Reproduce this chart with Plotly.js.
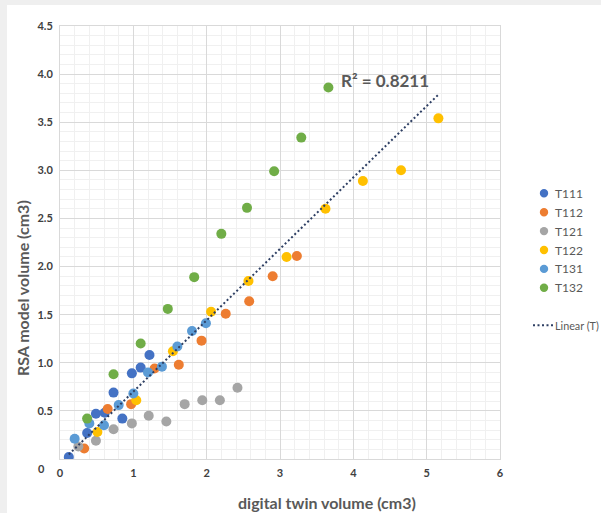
<!DOCTYPE html>
<html>
<head>
<meta charset="utf-8">
<script src="https://cdn.plot.ly/plotly-3.0.1.min.js"></script>
<style>
  html, body { margin: 0; padding: 0; background: #efefef; width: 601px; height: 513px; overflow: hidden; }
  #chart { position: absolute; left: 7px; top: 5px; width: 660px; height: 508px; background: #ffffff; }
</style>
</head>
<body>
<div id="chart"></div>
<script>
// ---- data ----
const seriesNames = ["T111", "T112", "T121", "T122", "T131", "T132"];
const seriesColors = ["#4472C4", "#ED7D31", "#A5A5A5", "#FFC000", "#5B9BD5", "#70AD47"];

const t111X = [0.12, 0.37, 0.49, 0.61, 0.73, 0.85, 0.98, 1.10, 1.22];
const t111Y = [0.02, 0.27, 0.47, 0.48, 0.69, 0.42, 0.89, 0.95, 1.08];

const t112X = [0.33, 0.65, 0.97, 1.29, 1.62, 1.93, 2.26, 2.58, 2.90, 3.23];
const t112Y = [0.11, 0.52, 0.57, 0.94, 0.98, 1.23, 1.51, 1.64, 1.90, 2.11];

const t121X = [0.25, 0.49, 0.73, 0.98, 1.21, 1.45, 1.70, 1.94, 2.18, 2.42];
const t121Y = [0.13, 0.19, 0.31, 0.37, 0.45, 0.39, 0.57, 0.61, 0.61, 0.74];

const t122X = [0.51, 1.04, 1.54, 2.06, 2.57, 3.09, 3.62, 4.13, 4.65, 5.16];
const t122Y = [0.28, 0.61, 1.12, 1.53, 1.85, 2.10, 2.60, 2.89, 3.00, 3.54];

const t131X = [0.20, 0.40, 0.60, 0.80, 1.00, 1.20, 1.39, 1.60, 1.80, 1.99];
const t131Y = [0.21, 0.37, 0.35, 0.56, 0.68, 0.90, 0.96, 1.17, 1.33, 1.41];

const t132X = [0.37, 0.73, 1.10, 1.47, 1.83, 2.20, 2.55, 2.92, 3.29, 3.66];
const t132Y = [0.42, 0.88, 1.20, 1.56, 1.89, 2.34, 2.61, 2.99, 3.34, 3.86];

// linear trendline over all points (Excel "Linear (T)")
const trendName = "Linear (T)";
const trendX = [0.12, 5.16];
const trendY = [0.047, 3.787];
const r2Text = "R\u00B2 = 0.8211";

const xTickVals = [0, 1, 2, 3, 4, 5, 6];
const xTickText = ["0", "1", "2", "3", "4", "5", "6"];
const yTickVals = [0, 0.5, 1.0, 1.5, 2.0, 2.5, 3.0, 3.5, 4.0, 4.5];
const yTickText = ["", "0.5", "1.0", "1.5", "2.0", "2.5", "3.0", "3.5", "4.0", "4.5"];
const yZeroLabel = "0";

const xTitle = "digital twin volume (cm3)";
const yTitle = "RSA model volume (cm3)";

// ---- traces ----
const xs = [t111X, t112X, t121X, t122X, t131X, t132X];
const ys = [t111Y, t112Y, t121Y, t122Y, t131Y, t132Y];

const FONT = "Lato, 'Open Sans', 'Liberation Sans', sans-serif";
const TREND_COLOR = "#2E3F63";

const traces = seriesNames.map((n, i) => ({
  type: "scatter",
  mode: "markers",
  name: n,
  x: xs[i],
  y: ys[i],
  marker: { color: seriesColors[i], size: 10, line: { width: 0 } },
  hoverinfo: "x+y+name"
}));

traces.push({
  type: "scatter",
  mode: "lines",
  name: trendName,
  x: trendX,
  y: trendY,
  line: { color: TREND_COLOR, width: 2, dash: "2px,2.5px" }
});

// ---- legend drawn as shapes + annotations (Excel-style spacing) ----
// paper coords: plot area spans div x 53..493 (440px), div y 21..454 (433px)
const PX0 = 53, PW = 440, PB = 454, PH = 433, OFFX = 7, OFFY = 5;
const pxToPaperX = px => (px - OFFX - PX0) / PW;
const pyToPaperY = py => (PB - (py - OFFY)) / PH;

const legendShapes = [];
const legendAnns = [];
seriesNames.forEach((n, i) => {
  const py = 193.3 + i * 18.9;
  legendShapes.push({
    type: "circle", xref: "paper", yref: "paper",
    xsizemode: "pixel", ysizemode: "pixel",
    xanchor: pxToPaperX(544), yanchor: pyToPaperY(py),
    x0: -4.2, x1: 4.2, y0: -4.2, y1: 4.2,
    fillcolor: seriesColors[i], line: { width: 0 }
  });
  legendAnns.push({
    text: n, xref: "paper", yref: "paper",
    x: pxToPaperX(552.5), y: pyToPaperY(py),
    xanchor: "left", yanchor: "middle", showarrow: false,
    font: { family: FONT, size: 12, color: "#595959" }
  });
});
legendShapes.push({
  type: "line", xref: "paper", yref: "paper",
  x0: pxToPaperX(533), x1: pxToPaperX(554),
  y0: pyToPaperY(325.3), y1: pyToPaperY(325.3),
  line: { color: TREND_COLOR, width: 2, dash: "2px,2.5px" }
});
legendAnns.push({
  text: trendName, xref: "paper", yref: "paper",
  x: pxToPaperX(552.5), y: pyToPaperY(325.3),
  xanchor: "left", yanchor: "middle", showarrow: false,
  font: { family: FONT, size: 10.8, color: "#595959" }
});

const layout = {
  width: 660,
  height: 508,
  margin: { l: 53, r: 167, t: 21, b: 54 },
  paper_bgcolor: "#ffffff",
  plot_bgcolor: "#ffffff",
  font: { family: FONT, color: "#595959" },
  showlegend: false,
  xaxis: {
    range: [0, 6],
    tickvals: xTickVals,
    ticktext: xTickText,
    tickfont: { family: FONT, size: 11, color: "#404040", weight: "bold" },
    showgrid: true,
    gridcolor: "#d9d9d9",
    gridwidth: 1,
    zeroline: false,
    showline: true,
    linecolor: "#d9d9d9",
    mirror: true,
    ticks: "",
    ticklabelstandoff: 4,
    minor: { dtick: 0.2, showgrid: true, gridcolor: "#f0f0f0" },
    fixedrange: true
  },
  yaxis: {
    range: [0, 4.5],
    tickvals: yTickVals,
    ticktext: yTickText,
    tickfont: { family: FONT, size: 11, color: "#404040", weight: "bold" },
    showgrid: true,
    gridcolor: "#d9d9d9",
    gridwidth: 1,
    zeroline: false,
    showline: true,
    linecolor: "#d9d9d9",
    mirror: true,
    ticks: "",
    ticklabelstandoff: 4,
    minor: { dtick: 0.1, showgrid: true, gridcolor: "#f0f0f0" },
    fixedrange: true
  },
  shapes: legendShapes,
  annotations: [
    {
      text: r2Text, xref: "x", yref: "y", x: 4.425, y: 3.935,
      showarrow: false, xanchor: "center", yanchor: "middle",
      font: { family: FONT, size: 17, color: "#595959", weight: "bold" }
    },
    {
      text: xTitle, xref: "paper", yref: "paper", x: 0.606, y: -0.1015,
      showarrow: false, xanchor: "center", yanchor: "middle",
      font: { family: FONT, size: 16, color: "#595959", weight: "bold" }
    },
    {
      text: yTitle, xref: "paper", yref: "paper", x: -0.0864, y: 0.3946,
      showarrow: false, xanchor: "center", yanchor: "middle", textangle: -90,
      font: { family: FONT, size: 16, color: "#595959", weight: "bold" }
    },
    {
      text: yZeroLabel, xref: "paper", yref: "paper", x: -0.043, y: -0.0208,
      showarrow: false, xanchor: "center", yanchor: "middle",
      font: { family: FONT, size: 11, color: "#404040", weight: "bold" }
    }
  ].concat(legendAnns)
};

Plotly.newPlot("chart", traces, layout, { displayModeBar: false, staticPlot: true });
</script>
</body>
</html>
